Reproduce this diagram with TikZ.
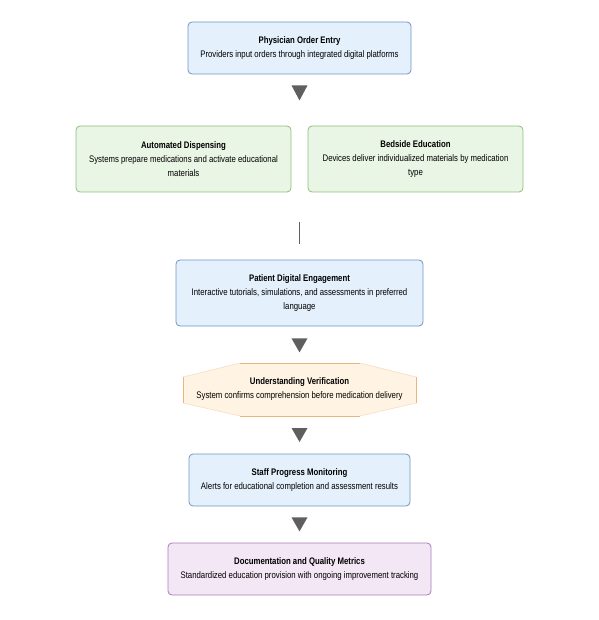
\documentclass[tikz,border=0pt]{standalone}
\usepackage{fontspec}
\setmainfont{Liberation Sans}[FakeStretch=0.82]
\usepackage{xcolor}
\usetikzlibrary{calc}

\definecolor{bluefill}{HTML}{E4F0FC}
\definecolor{blueline}{HTML}{6F94C6}
\definecolor{greenfill}{HTML}{E9F5E5}
\definecolor{greenline}{HTML}{8EC07C}
\definecolor{orangefill}{HTML}{FFF3E3}
\definecolor{orangeline}{HTML}{EDB37A}
\definecolor{purplefill}{HTML}{F3E6F5}
\definecolor{purpleline}{HTML}{A77DB5}
\definecolor{tipgray}{HTML}{5F5F5F}

\tikzset{
  stagebox/.style={draw, line width=0.8pt, rounded corners=4pt, align=center,
    inner sep=0pt, font=\fontsize{9.5}{14}\selectfont},
  bluebox/.style={stagebox, fill=bluefill, draw=blueline},
  greenbox/.style={stagebox, fill=greenfill, draw=greenline},
  purplebox/.style={stagebox, fill=purplefill, draw=purpleline},
  downtip/.style={fill=tipgray},
}

\begin{document}
\begin{tikzpicture}[x=1pt,y=-1pt]
				\useasboundingbox (0,0) rectangle (598,620);
				
				\node [bluebox, minimum width=223pt, minimum height=52pt] (order) at (299.5,48)
				{\textbf{Physician Order Entry}\\Providers input orders through integrated digital platforms};
				
				\node [greenbox, minimum width=215pt, minimum height=66pt] (dispense) at (183.5,159)
				{\textbf{Automated Dispensing}\\Systems prepare medications and activate educational\\materials};
				\node [greenbox, minimum width=215pt, minimum height=66pt] (bedside) at (415.5,159)
				{\textbf{Bedside Education}\\Devices deliver individualized materials by medication\\type};
				
				\node [bluebox, minimum width=247pt, minimum height=66pt] (engage) at (299.5,293)
				{\textbf{Patient Digital Engagement}\\Interactive tutorials, simulations, and assessments in preferred\\language};
				
				% hexagon for the check step
				\fill [orangefill] (183,377) -- (240,363) -- (360,363) -- (416,377) -- (416,403) -- (360,416) -- (240,416) -- (183,403) -- cycle;
				\draw [orangeline, line width=0.8pt] (240,363) -- (360,363);
				\draw [orangeline, line width=0.8pt] (240,416) -- (360,416);
				\draw [orangeline, line width=0.8pt] (183,377) -- (183,403);
				\draw [orangeline, line width=0.8pt] (416,377) -- (416,403);
				\draw [orangeline!50, line width=0.5pt] (183,377) -- (240,363) (360,363) -- (416,377) (416,403) -- (360,416) (240,416) -- (183,403);
				\node [align=center, font=\fontsize{9.5}{14}\selectfont] (verify) at (299.5,389.5)
				{\textbf{Understanding Verification}\\System confirms comprehension before medication delivery};
				
				\node [bluebox, minimum width=221pt, minimum height=52pt] (monitor) at (299.5,480)
				{\textbf{Staff Progress Monitoring}\\Alerts for educational completion and assessment results};
				
				\node [purplebox, minimum width=263pt, minimum height=52pt] (docs) at (299.5,569)
				{\textbf{Documentation and Quality Metrics}\\Standardized education provision with ongoing improvement tracking};
				
				% % % % % % % % % % % % % % % % % % % % % % % % % %
				
				\fill [downtip] ($(order.south)+(-8,11)$) -- ++(16,0) -- ++(-8,15) -- cycle;
				\fill [downtip] ($(engage.south)+(-8,12)$) -- ++(16,0) -- ++(-8,14) -- cycle;
				\fill [downtip] (291.5,428) -- ++(16,0) -- ++(-8,14) -- cycle;
				\fill [downtip] ($(monitor.south)+(-8,11)$) -- ++(16,0) -- ++(-8,14) -- cycle;
				
				\draw [tipgray, line width=0.8pt] (299.5,222) -- (299.5,244);
\end{tikzpicture}
\end{document}
